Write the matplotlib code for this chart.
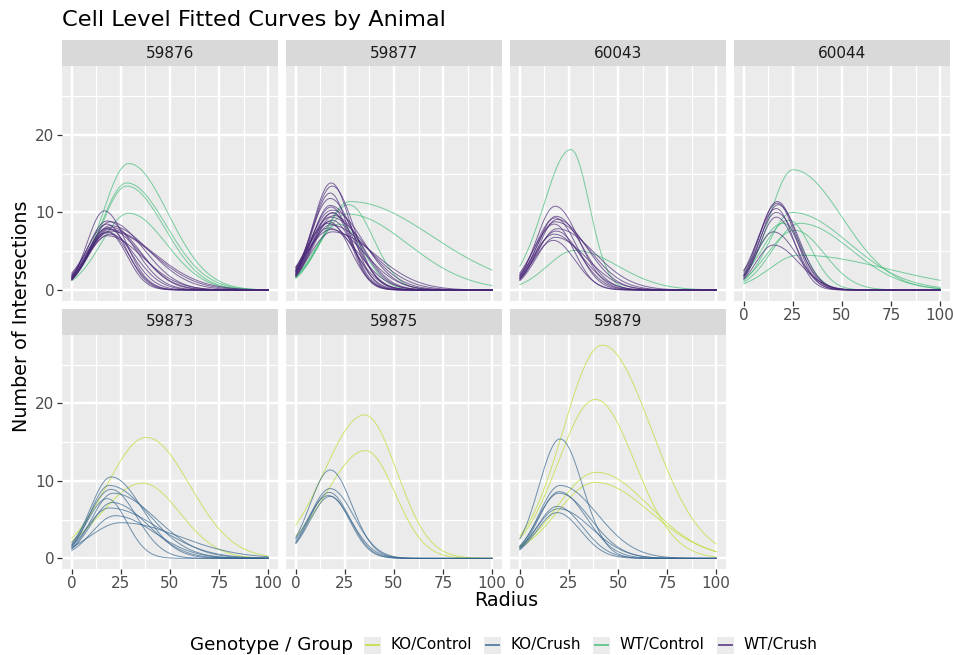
import numpy as np
import matplotlib.pyplot as plt
from matplotlib.patches import Rectangle
from matplotlib.lines import Line2D

# facet order (top row then bottom row)
animals = ['59876', '59877', '60043', '60044', '59873', '59875', '59879']
groups = ['KO/Control', 'KO/Crush', 'WT/Control', 'WT/Crush']
group_colors = ['#bade28', '#33638d', '#3cbb75', '#482677']

# one tuple per cell:
# (group index, intersections at r=0, radius at peak, peak intersections, right-hand spread)
cells_59876 = [
    (2, 1.5, 29, 16.3, 20), (2, 1.5, 28, 13.8, 20), (2, 1.4, 28, 13.4, 19), (2, 1.2, 29, 9.9, 19),
    (3, 1.6, 16.5, 10.2, 11), (3, 1.8, 18, 8.9, 14), (3, 1.5, 19.5, 8.8, 17), (3, 2.0, 18, 8.5, 10),
    (3, 1.4, 19.5, 8.3, 20), (3, 1.7, 18, 8.0, 12), (3, 1.3, 19, 7.8, 16), (3, 1.9, 19.5, 7.6, 22),
    (3, 1.5, 18.5, 7.4, 9.5), (3, 1.8, 19.5, 7.2, 13), (3, 1.4, 18, 7.0, 18), (3, 2.2, 18.5, 7.5, 10.5),
    (3, 1.6, 20, 8.1, 15), (3, 1.3, 17.5, 7.9, 24),
]
cells_59877 = [
    (2, 1.6, 27.5, 11.4, 42), (2, 1.7, 26, 9.8, 31), (2, 1.5, 27, 11.0, 12.5), (2, 1.8, 22, 8.5, 12),
    (3, 2.2, 18, 13.8, 10), (3, 2.4, 18.5, 13.4, 11), (3, 2.0, 17.5, 12.5, 9.5), (3, 2.6, 17.5, 11.8, 12),
    (3, 1.9, 17.5, 10.9, 14), (3, 2.3, 18, 10.7, 10), (3, 2.8, 18.5, 10.3, 16), (3, 1.8, 18.5, 9.9, 12),
    (3, 2.5, 17.5, 9.4, 18), (3, 2.1, 18.5, 9.0, 11), (3, 3.0, 16.5, 8.6, 13), (3, 1.7, 17.5, 8.4, 20),
    (3, 2.4, 16.5, 8.0, 15), (3, 2.0, 18.5, 7.5, 22), (3, 2.6, 19, 10.0, 9), (3, 1.9, 19.5, 9.6, 14),
    (3, 2.2, 17, 8.8, 10.5), (3, 2.9, 18, 7.8, 17),
]
cells_60043 = [
    (2, 3.1, 26, 18.1, 9.4), (2, 0.7, 28, 5.1, 22),
    (3, 1.8, 18, 10.8, 12), (3, 1.5, 18.5, 9.5, 13), (3, 2.0, 18, 9.3, 11), (3, 1.3, 19, 9.1, 15),
    (3, 1.7, 18, 8.8, 17), (3, 2.2, 17.5, 8.5, 10), (3, 1.4, 19, 7.9, 19), (3, 1.6, 18.5, 7.6, 12),
    (3, 1.9, 17.5, 7.2, 14), (3, 1.2, 18, 6.8, 16), (3, 1.5, 17, 6.4, 11),
]
cells_60044 = [
    (2, 1.7, 25, 15.5, 25), (2, 1.2, 24.5, 10.0, 29), (2, 1.0, 28.5, 8.6, 26), (2, 2.0, 23, 9.0, 11),
    (2, 1.4, 26, 7.7, 15), (2, 0.8, 28, 4.5, 45), (2, 2.6, 20, 8.6, 10),
    (3, 2.0, 17, 11.4, 10), (3, 2.3, 17, 11.2, 9.5), (3, 1.7, 17.5, 11.0, 10.5), (3, 2.5, 16.5, 10.5, 9),
    (3, 1.9, 16.5, 10.0, 11), (3, 1.5, 16.5, 9.4, 10), (3, 1.8, 15, 7.5, 12), (3, 1.4, 15, 5.8, 13),
]
cells_59873 = [
    (0, 2.6, 38, 15.6, 22), (0, 2.2, 36, 9.7, 19),
    (1, 1.8, 20, 10.5, 16), (1, 1.5, 19, 9.4, 20), (1, 2.0, 20, 8.9, 13), (1, 1.3, 21, 8.4, 22),
    (1, 1.7, 18, 7.7, 10), (1, 1.2, 20.5, 7.2, 18), (1, 1.6, 19, 6.5, 25), (1, 1.0, 22, 5.5, 20),
    (1, 1.4, 25, 4.6, 30),
]
cells_59875 = [
    (0, 4.3, 35, 18.5, 16.4), (0, 2.9, 35.5, 13.9, 15),
    (1, 2.7, 17.5, 11.4, 11), (1, 2.2, 17.5, 9.0, 12), (1, 2.0, 17, 8.5, 10.5), (1, 2.5, 16.5, 8.1, 11.5),
    (1, 1.9, 17.5, 8.0, 10),
]
cells_59879 = [
    (0, 2.9, 42, 27.5, 25), (0, 2.6, 38.5, 20.5, 20), (0, 1.6, 39, 11.1, 27), (0, 1.4, 38.5, 9.8, 28),
    (1, 2.5, 20.5, 15.4, 11.5), (1, 1.5, 20.5, 9.4, 19), (1, 1.3, 20, 8.6, 14), (1, 1.6, 20, 8.4, 16),
    (1, 1.2, 19, 6.7, 13), (1, 1.4, 19.5, 6.4, 17), (1, 1.1, 19, 5.9, 12),
]
cells = [cells_59876, cells_59877, cells_60043, cells_60044, cells_59873, cells_59875, cells_59879]

radius = np.linspace(0, 100, 201)


def fitted(r, n0, rpk, npk, spread):
    # smooth single-peak curve through the read start, peak and tail
    left = rpk / np.sqrt(2 * np.log(npk / n0))
    s = np.where(r < rpk, left, spread)
    return npk * np.exp(-(r - rpk) ** 2 / (2 * s ** 2))


W, H = 954, 655
fig = plt.figure(figsize=(W / 100, H / 100), dpi=100)


def rect(x0, y0, x1, y1):
    return [x0 / W, 1 - y1 / H, (x1 - x0) / W, (y1 - y0) / H]


col_left = [62, 286, 510, 734]
pw = 216
rows = [(40, 66, 300.7), (308.5, 334.5, 569)]

for k, animal in enumerate(animals):
    row, col = divmod(k, 4)
    st, top, bot = rows[row]
    x0 = col_left[col]
    ax = fig.add_axes(rect(x0, top, x0 + pw, bot))
    ax.set_facecolor('#ebebeb')
    for sp in ax.spines.values():
        sp.set_visible(False)
    ax.set_xlim(-5, 105)
    ax.set_ylim(-1.375, 28.875)
    ax.set_xticks([0, 25, 50, 75, 100])
    ax.set_xticks([12.5, 37.5, 62.5, 87.5], minor=True)
    ax.set_yticks([0, 10, 20])
    ax.set_yticks([5, 15, 25], minor=True)
    ax.grid(which='major', color='white', lw=1.78)
    ax.grid(which='minor', color='white', lw=0.9)
    ax.set_axisbelow(True)
    ax.tick_params(which='minor', length=0)
    ax.tick_params(which='major', color='#333333', length=3.4, width=0.9,
                   labelsize=11, labelcolor='#4d4d4d', pad=2)
    show_x = row == 1 or col == 3
    show_y = col == 0
    if not show_x:
        ax.tick_params(axis='x', length=0, labelbottom=False)
    if not show_y:
        ax.tick_params(axis='y', length=0, labelleft=False)

    for g, n0, rpk, npk, spread in cells[k]:
        ax.plot(radius, fitted(radius, n0, rpk, npk, spread), color=group_colors[g],
                lw=0.7, alpha=0.68)

    sax = fig.add_axes(rect(x0, st, x0 + pw, top))
    sax.set_facecolor('#d9d9d9')
    sax.set_xticks([])
    sax.set_yticks([])
    for sp in sax.spines.values():
        sp.set_visible(False)
    sax.text(0.5, 0.5, animal, ha='center', va='center', fontsize=11, color='#1a1a1a',
             transform=sax.transAxes)

fig.text(62 / W, 1 - 20 / H, 'Cell Level Fitted Curves by Animal', fontsize=16.2,
         ha='left', va='center')
fig.text(506 / W, 1 - 601 / H, 'Radius', fontsize=13.75, ha='center', va='center')
fig.text(22 / W, 1 - 316 / H, 'Number of Intersections', fontsize=13.75, rotation=90,
         ha='center', va='center')

# legend along the bottom
ly = 645
fig.text(190 / W, 1 - ly / H, 'Genotype / Group', fontsize=13.2, ha='left', va='center')
key_x = [364, 484, 593, 717]
for g, kx in enumerate(key_x):
    fig.add_artist(Rectangle((kx / W, 1 - (ly + 8.5) / H), 17 / W, 17 / H,
                             transform=fig.transFigure, facecolor='#ebebeb', edgecolor='none'))
    fig.add_artist(Line2D([(kx + 2) / W, (kx + 15) / W], [1 - ly / H, 1 - ly / H],
                          transform=fig.transFigure, color=group_colors[g], lw=1.4, alpha=0.75))
    fig.text((kx + 27) / W, 1 - ly / H, groups[g], fontsize=11, ha='left', va='center')

fig.savefig('out.png', dpi=100)
